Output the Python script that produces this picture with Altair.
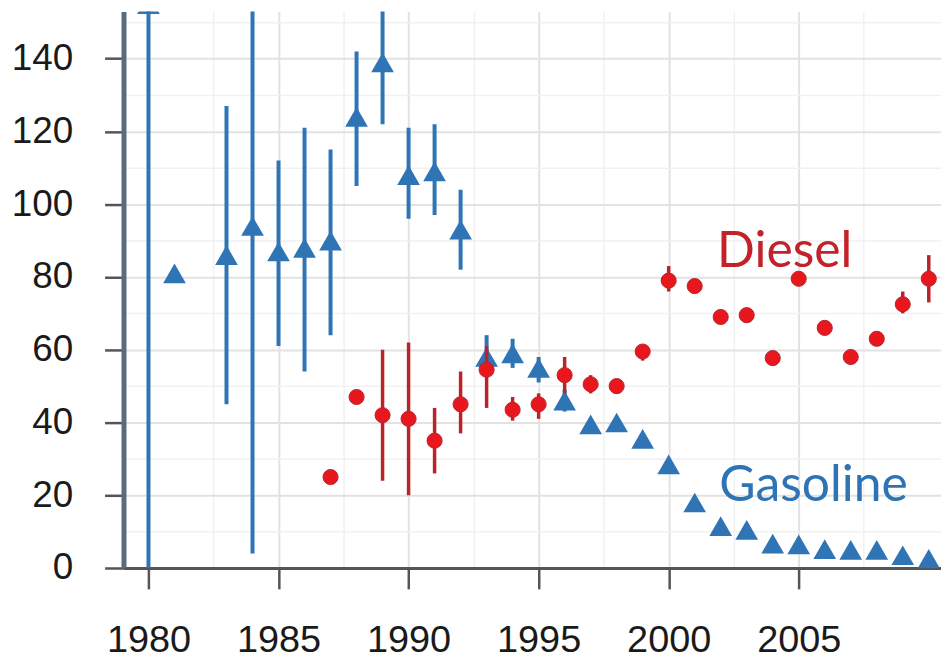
import altair as alt
import pandas as pd

# Gasoline (blue triangles)
gas_years = [1980, 1981, 1983, 1984, 1985, 1986, 1987, 1988, 1989, 1990, 1991, 1992,
             1993, 1994, 1995, 1996, 1997, 1998, 1999, 2000, 2001, 2002, 2003, 2004,
             2005, 2006, 2007, 2008, 2009, 2010]
gas_vals = [155, 81, 86, 94, 87, 88, 90, 124, 139, 108, 109, 93,
            58, 59, 55, 46, 39.5, 40, 35.5, 28.5, 18, 11.5, 10.5, 6.7,
            6.5, 5.2, 5, 5, 3.5, 2.5]
gas_lo = [0, None, 45, 4, 61, 54, 64, 105, 122, 96, 97, 82,
          54, 55, 51, 43, None, None, None, None, None, None, None, None,
          None, None, None, None, None, None]
gas_hi = [200, None, 127, 200, 112, 121, 115, 142, 200, 121, 122, 104,
          64, 63, 58, 49, None, None, None, None, None, None, None, None,
          None, None, None, None, None, None]

# Diesel (red circles)
die_years = [1987, 1988, 1989, 1990, 1991, 1992, 1993, 1994, 1995, 1996, 1997, 1998,
             1999, 2000, 2001, 2002, 2003, 2004, 2005, 2006, 2007, 2008, 2009, 2010]
die_vals = [25, 47, 42, 41, 35, 45, 54.5, 43.5, 45, 53, 50.5, 50,
            59.5, 79, 77.5, 69, 69.5, 57.7, 79.5, 66, 58, 63, 72.5, 79.5]
die_lo = [None, None, 24, 20, 26, 37, 44, 40.5, 41, 48, 48, 48,
          57, 76, None, None, None, None, None, None, None, None, 70, 73]
die_hi = [None, None, 60, 62, 44, 54, 61, 47, 48, 58, 53, 52,
          61, 83, None, None, None, None, None, None, None, None, 76, 86]

label_text = ["Diesel", "Gasoline"]
label_x = [2004.46, 2005.57]
label_y = [82.6, 18.3]
label_col = ["#c3222a", "#2e74b5"]

x_major = [1980, 1985, 1990, 1995, 2000, 2005]
x_minor = [1982.5, 1987.5, 1992.5, 1997.5, 2002.5, 2007.5]
y_major = [0, 20, 40, 60, 80, 100, 120, 140]
y_minor = [10, 30, 50, 70, 90, 110, 130, 150]

BLUE = "#2f75b6"
RED = "#e8171e"
DRED = "#b8242a"

gas = pd.DataFrame({"year": gas_years, "val": gas_vals, "lo": gas_lo, "hi": gas_hi})
die = pd.DataFrame({"year": die_years, "val": die_vals, "lo": die_lo, "hi": die_hi})
labels = pd.DataFrame({"t": label_text, "x": label_x, "y": label_y, "c": label_col})

xs = alt.Scale(domain=[1979.04, 2010.47], nice=False, zero=False)
ys = alt.Scale(domain=[0, 153], nice=False)

xaxis = alt.Axis(values=x_major, format="d", labelFont="Liberation Sans", labelFontSize=38,
                 labelColor="#1a1a1a", labelPadding=33, tickSize=21, tickWidth=2.5,
                 tickColor="#555555", domainColor="#555555", domainWidth=3,
                 grid=True, gridColor="#e2e2e2", gridWidth=2, title=None)
yaxis = alt.Axis(values=y_major, labelFont="Liberation Sans", labelFontSize=37,
                 labelColor="#1a1a1a", labelPadding=32, tickSize=19, tickWidth=2.5,
                 tickColor="#555555", domainColor="#5b6b7e", domainWidth=5,
                 grid=True, gridColor="#e2e2e2", gridWidth=2, title=None)

minor = alt.Chart(gas).mark_point(opacity=0).encode(
    x=alt.X("year:Q", scale=xs, axis=alt.Axis(orient="top", values=x_minor, labels=False,
                                              ticks=False, domain=False, grid=True,
                                              gridColor="#f1f1f1", gridWidth=1.5, title=None)),
    y=alt.Y("val:Q", scale=ys, axis=alt.Axis(orient="right", values=y_minor,
                                             labels=False, ticks=False, domain=False, grid=True,
                                             gridColor="#f1f1f1", gridWidth=1.5, title=None)),
)

base_g = alt.Chart(gas)
base_d = alt.Chart(die)

gas_err = base_g.mark_rule(color=BLUE, strokeWidth=4, clip=True).encode(
    x=alt.X("year:Q", scale=xs, axis=xaxis),
    y=alt.Y("lo:Q", scale=ys, axis=yaxis),
    y2="hi:Q",
).transform_filter("datum.lo != null")

gas_pts = base_g.mark_point(shape="triangle-up", filled=True, size=520, color=BLUE,
                            opacity=1, clip=True).encode(
    x=alt.X("year:Q", scale=xs),
    y=alt.Y("val:Q", scale=ys),
)

die_err = base_d.mark_rule(color=DRED, strokeWidth=3.5, clip=True).encode(
    x=alt.X("year:Q", scale=xs),
    y=alt.Y("lo:Q", scale=ys),
    y2="hi:Q",
).transform_filter("datum.lo != null")

die_pts = base_d.mark_circle(size=230, color=RED, opacity=1, stroke=DRED, strokeWidth=1,
                             clip=True).encode(
    x=alt.X("year:Q", scale=xs),
    y=alt.Y("val:Q", scale=ys),
)

txt = alt.Chart(labels).mark_text(font="Lato", fontSize=50, align="center",
                                  baseline="alphabetic").encode(
    x=alt.X("x:Q", scale=xs),
    y=alt.Y("y:Q", scale=ys),
    text="t:N",
    color=alt.Color("c:N", scale=None),
)

main = alt.layer(gas_err, gas_pts, die_err, die_pts, txt)

chart = alt.layer(minor, main).resolve_axis(x="independent", y="independent").properties(
    width=821, height=559,
    autosize=alt.AutoSizeParams(type="none"),
    padding={"left": 116, "top": 2, "right": 0, "bottom": 90},
    background="white",
).configure_view(stroke=None)

chart.save("out.html", embed_options={"renderer": "svg", "actions": False})
